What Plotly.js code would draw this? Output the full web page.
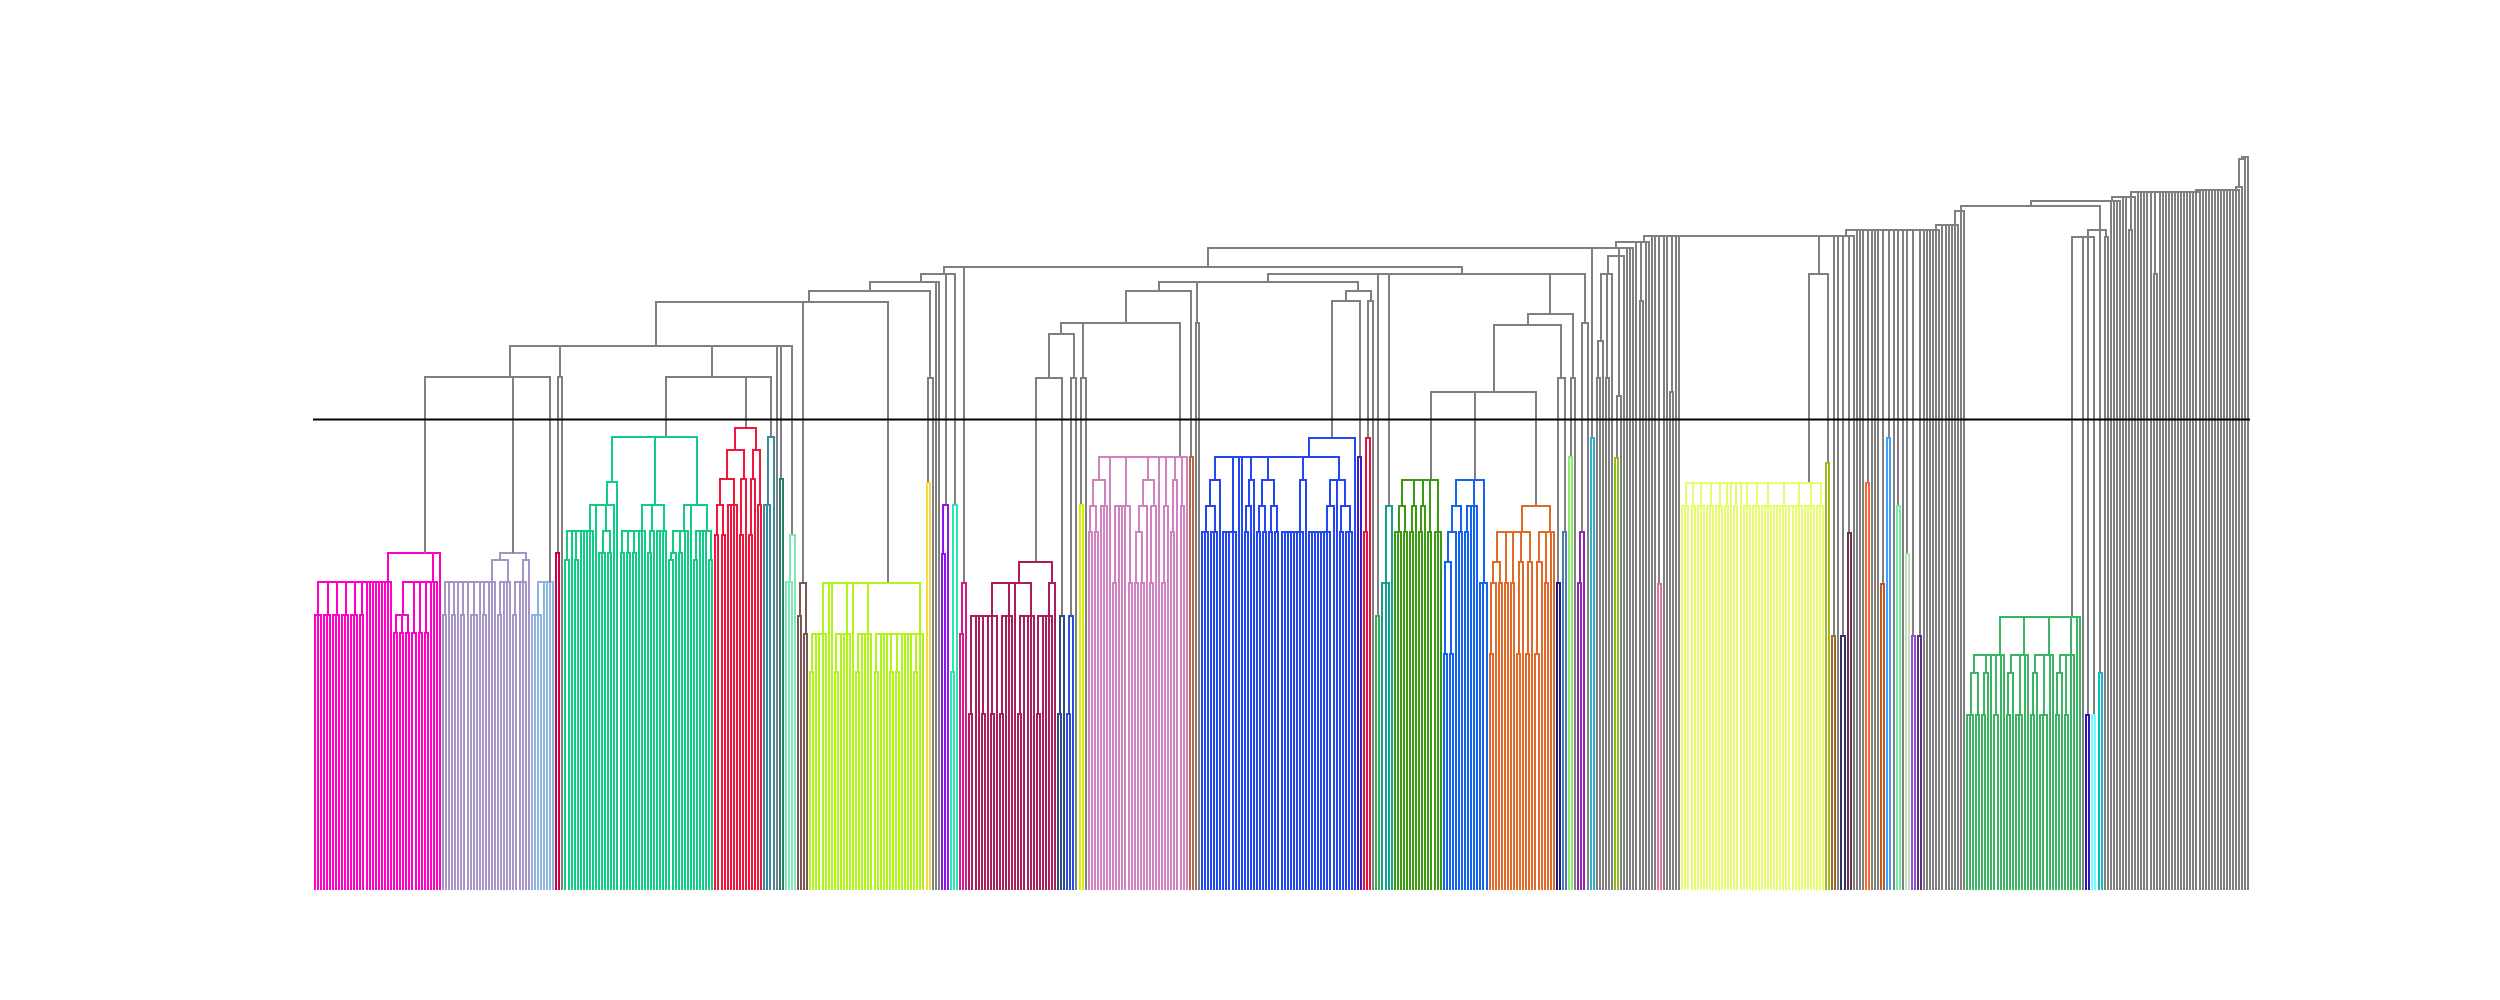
<!DOCTYPE html>
<html>
<head>
<meta charset="utf-8">
<script src="https://cdn.plot.ly/plotly-3.0.1.min.js"></script>
<style>
body { margin: 0; background: #fff; }
#chart .js-line { shape-rendering: crispEdges; }
</style>
</head>
<body>
<div id="chart" style="width:2500px;height:1000px"></div>
<script>
// colour cut of the dendrogram
var threshold = 470.4
var grey = '#808080'

// clusters: [merge height, children...]; a plain number n stands for n leaves
var pink = [337,
  [308, [275, 3], [275, 3], [275, 3], [275, 3], [275, 3], [275, 2], 1, 1, 1, 1, 1, 1, 1, 1, 1],
  [308, [275, [257, 2], [257, 2], [257, 2]], [257, 2], [257, 2], [257, 2], 1, 1, 1],
  1]
var lilac = [337,
  [330,
    [308, [275, 2], 1, [275, 2], 1, [275, 2], 1, [275, 3], 1, [275, 2], 1, 1, 1],
    [308, [275, 2], 1, 1, 1]],
  [330, [308, [275, 2], 1, 1, 1], 1]]
var lightBlue = [308, [275, 4], 1, 1, 1, 1]
var crimson = [337, 2]

var greenA = [408, [385, [359, [330, 2], 1, [330, 2], 1, 1, 1, 1, 1], 1, [359, [337, 3], [337, 2]], 1], 1]
var greenB = [385, [359, [337, 2], [337, 2], [337, 2], 1, 1, 1], [359, [337, 2], 1], [359, 1, 1, 1, 1]]
var greenC = [385, [359, [337, [330, 2], 1], [337, 2], 1, 1], 1, [359, [330, 2], 1, 1, 1, [330, 2]]]
var green = [453, greenA, greenB, greenC]
var red = [462,
  [440, [411, [385, [355, 2], [355, 2]], [385, 1, 1, 1, 1]], [411, [355, 2], 1]],
  [440, [411, [355, 2], 1], [385, 2]]]
var teal = [453, [385, 3], 1]
var darkTeal = [411, 2]
var mint = [355, [308, 3], 1]
var brown = [307, [274, 2], [256, 2]]
var lime = [307,
  [256, [218, 2], 1, 1, 1, 1], 1, 1,
  [256, [218, 2], 1, 1, 1, 1], 1,
  [256, [218, 2], 1, 1, 1, 1],
  [256, [218, 2], 1, 1, 1, [218, 2], [218, 2], 1, 1, 1, 1, [218, 2], 1, 1]]
var yellow = [407, 2]
var violet = [385, [336, 2], 1]
var aqua = [385, [218, 2], 1]
var magenta = [307, [256, 2], 1]
var deepMagenta = [328,
  [307, [274, [176, 2], 1, 1, [176, 2], 1, [176, 2], 1], [274, [176, 2], 1, 1, 1], 1,
    [274, [176, 2], 1, 1, 1, 1]],
  [307, [274, [176, 2], 1, 1, 1, 1], 1]]
var slate = [274, [176, 2], 1]
var blueSmall = [274, [176, 2], 1]
var yellowLime = [385, 2]
var orchid = [433,
  [410, [384, [358, 2], [358, 2]], [384, 1, 1, 1]], 1,
  [384, [307, 2], 1, 1, 1, [307, 2]],
  [410, [384, [358, [307, 2], [307, 2]], 1], [384, [307, 2], 1]], 1,
  [384, [307, 2], 1], [410, [358, 2], 1], [384, 2], 1]
var rust = [433, 2]
var blue = [452,
  [433,
    [410, [384, [358, 3], [358, 3]], 1],
    [358, 5], 1, 1,
    [410, [384, [358, 2], 1], 1],
    [410, [384, [358, 2], [358, 2]], [384, [358, 2], [358, 2]]],
    [410, [358, 8], 1],
    [410, [384, [358, 8], 1], 1, [384, [358, 2], [358, 3]]]],
  1]
var indigo = [433, 2]
var red2 = [452, [358, 2], 1]
var green2 = [274, 2]
var teal2 = [384, [307, 3], 1]
var green3 = [410, [384, [358, 3], [358, 2]], [384, [358, 2], 1], [384, [358, 2], 1], [358, 2], [358, 3]]
var blue2 = [410, [384, [358, [328, [236, 2], [236, 2]], 1], [358, 2]], [384, [358, 2], 1, 1, 1], [307, 3]]
var orange = [384,
  [358, [328, [307, [236, 2], 1], [307, 2]], [307, 2], [307, 2], [328, [236, 2], 1], [328, [236, 2], 1]],
  [358, [328, [236, 2], 1], [307, 2], 1, 1]]
var navy = [307, 2]
var steel = [358, 2]
var lightGreen = [433, 2]
var purple = [358, [307, 2], 1]
var cyan = [452, 2]
var limeOlive = [432, 2]
var pinkPair = [306, 2]
var lightYellow = [407, [384, 3], [384, 2], [384, 3], [384, 3], [384, 3], [384, 2], 1, [384, 2], 1,
  [384, 3], [384, 3], [384, 4], [384, 5], [384, 5], [384, 4], [384, 3]]
var olive = [427, 2]
var brownOrange = [254, 2]
var navy2 = [254, 2]
var maroon = [357, 2]
var orangeRed = [407, 2]
var rust2 = [306, 2]
var skyBlue = [452, 2]
var mint2 = [384, 2]
var paleGreen = [336, 2]
var violet2 = [254, 2]
var darkPurple = [254, 2]
var green4 = [273,
  [235, [217, [175, 3], [175, 2]], [217, [175, 2], 1], 1, [175, 2], 1, 1],
  [235, [217, [175, 2], 1], [175, 3], 1, 1],
  [235, [217, [175, 2], 1], [175, 3], 1, 1],
  [235, [217, [175, 2], 1], [175, 2], 1, 1],
  1, 1]
var indigo2 = [175, 2]
var cyanLight = [175, 2]
var tealCyan = [217, 2]

var clusterColours = [
  [pink, '#ff00c8'], [lilac, '#a794c6'], [lightBlue, '#8cb4df'], [crimson, '#cc0044'],
  [green, '#11cc84'], [red, '#f2163c'], [teal, '#3d8a9e'], [darkTeal, '#2d7d66'],
  [mint, '#80e8b4'], [brown, '#7d5555'], [lime, '#b0f51a'], [yellow, '#f5d94a'],
  [violet, '#8c14f0'], [aqua, '#28e8b0'], [magenta, '#d41a8c'], [deepMagenta, '#aa1e5c'],
  [slate, '#2e4a7e'], [blueSmall, '#2850d8'], [yellowLime, '#d8f000'], [orchid, '#d082c0'],
  [rust, '#b86448'], [blue, '#2448f0'], [indigo, '#3c1cc0'], [red2, '#e0143c'],
  [green2, '#3cb050'], [teal2, '#14a090'], [green3, '#3a9a12'], [blue2, '#1464f0'],
  [orange, '#e06a2a'], [navy, '#1c1c80'], [steel, '#4a7ab2'], [lightGreen, '#8aee68'],
  [purple, '#9424b4'], [cyan, '#34b0c8'], [limeOlive, '#8cbc20'], [pinkPair, '#e070a0'],
  [lightYellow, '#e8fa70'], [olive, '#a0b820'], [brownOrange, '#a06830'], [navy2, '#343464'],
  [maroon, '#6a3450'], [orangeRed, '#ff6a30'], [rust2, '#c05a20'], [skyBlue, '#40a0ff'],
  [mint2, '#70f0a0'], [paleGreen, '#c0e0c0'], [violet2, '#9050d0'], [darkPurple, '#603080'],
  [green4, '#3cb464'], [indigo2, '#3010c0'], [cyanLight, '#70ffff'], [tealCyan, '#10b8c0']
]

// grey links above the cut
var g1 = [513, pink, lilac, lightBlue]
var g2 = [513, crimson, 1]
var g3 = [513, green, [513, red, teal]]
var g4 = [544, g1, g2, [544, g3, 1, darkTeal, mint]]
var g5 = [588, g4, brown, lime]
var g6 = [599, g5, [512, yellow, 1]]
var g7 = [608, g6, 1, 1]
var g8 = [616, g7, violet, aqua]
var h567 = [567, [556, [512, deepMagenta, slate], [512, blueSmall, 1]], [512, yellowLime, 1], orchid]
var h599a = [599, h567, rust]
var h599b = [599, [589, blue, indigo], [589, red2, 1]]
var h608 = [608, h599a, [567, 1, 1], h599b]
var h576 = [576, [565, [498, green3, blue2, orange], [512, navy, steel]], [512, lightGreen, 1]]
var h616 = [616, [616, h608, green2, teal2], [616, h576, [567, purple, 1]]]
var g9 = [623, g8, magenta, h616]
var h642 = [642, g9, cyan, [634, [616, [549, [512, 2], 1], [512, 2], 1], [494, limeOlive, 1], 1], 1, 1, 1]
var h648 = [648, h642, 1, [589, 2], 1, 1]
var h654 = [654, h648, 1, 1, pinkPair, 1, 1, [498, 2], 1, 1, [616, lightYellow, olive],
  brownOrange, 1, navy2, maroon, 1]
var h660 = [660, h654, 1, 1, 1, orangeRed, 1, 1, 1, rust2, skyBlue, 1, mint2, 1, paleGreen,
  violet2, darkPurple, 1, 1, 1, 1, 1, 1]
var h665 = [665, h660, 1, 1, 1, 1, 1, 1]
var h679 = [679, h665, 1, 1]
var h684 = [684, h679, [660, [653, green4, 1, indigo2, cyanLight], tealCyan, [653, 2]]]
var h689 = [689, h684, 1, 1, 1, 1]
var h693 = [693, h689, 1, 1, [660, 2], 1]
var h698 = [698, h693, 1, 1, 1, 1, 1, [616, 2], 1, 1, 1, 1, 1, 1, 1, 1, 1, 1, 1, 1, 1, 1]
var h700 = [700, h698, 1, 1, 1, 1, 1, 1, 1, 1, 1, 1, 1, 1, 1]
var root = [733.3, [731, [703, h700, 1], 1], 1]

var colourOf = new Map(clusterColours)
var leafCount = 0
var lines = {}

function addLink(colour, a, b, top) {
  if (!lines[colour]) lines[colour] = {x: [], y: []}
  lines[colour].x.push(a.x, a.x, b.x, b.x, null)
  lines[colour].y.push(a.h, top, top, b.h, null)
}

// lays leaves out left to right, joins children the way scipy does
function walk(node, colour) {
  if (colourOf.has(node)) colour = colourOf.get(node)
  var kids = []
  node.slice(1).forEach(function (c) {
    if (typeof c == 'number') {
      for (var k = 0; k < c; k++) {
        kids.push({x: 10 * leafCount + 5, h: 0})
        leafCount++
      }
    } else {
      kids.push(walk(c, colour))
    }
  })
  var cur = kids[0]
  for (var i = 1; i < kids.length; i++) {
    addLink(colour, cur, kids[i], node[0])
    cur = {x: (cur.x + kids[i].x) / 2, h: node[0]}
  }
  return cur
}

walk(root, grey)

var data = Object.keys(lines).map(function (c) {
  return {
    x: lines[c].x,
    y: lines[c].y,
    type: 'scatter',
    mode: 'lines',
    line: {color: c, width: 2},
    hoverinfo: 'skip',
    showlegend: false
  }
})

var layout = {
  width: 2500,
  height: 1000,
  margin: {l: 312.5, r: 250, t: 120, b: 110, pad: 0},
  paper_bgcolor: '#ffffff',
  plot_bgcolor: '#ffffff',
  showlegend: false,
  xaxis: {range: [0, 10 * leafCount], visible: false},
  yaxis: {range: [0, root[0] * 1.05], visible: false},
  shapes: [{
    type: 'line', xref: 'paper', x0: 0, x1: 1, yref: 'y', y0: threshold, y1: threshold,
    line: {color: '#000000', width: 2}
  }]
}

Plotly.newPlot('chart', data, layout, {displayModeBar: false, staticPlot: true})
</script>
</body>
</html>
